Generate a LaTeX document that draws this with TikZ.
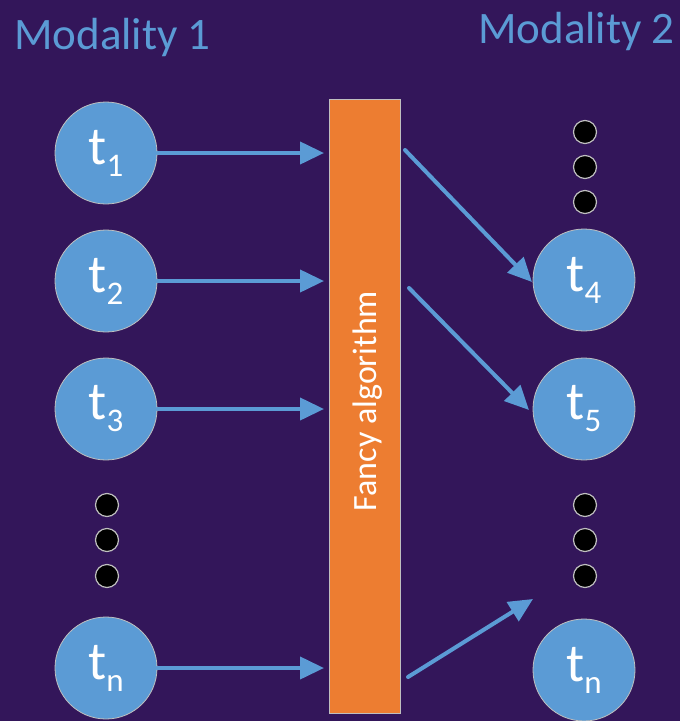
\documentclass[tikz,border=0pt]{standalone}
\usepackage{fontspec}
\setmainfont{Carlito}
\usetikzlibrary{arrows.meta}
\definecolor{bgpurple}{HTML}{33165A}
\definecolor{nodeblue}{HTML}{5B9BD5}
\definecolor{barorange}{HTML}{ED7D31}
\definecolor{rimgray}{HTML}{BFBFBF}
\tikzset{
  token/.style={circle, fill=nodeblue, draw=rimgray, line width=0.8pt,
    minimum size=102pt, inner sep=0pt, text=white,
    font=\fontsize{54}{54}\selectfont},
  dot/.style={circle, fill=black, draw=rimgray, line width=1.2pt,
    minimum size=23pt, inner sep=0pt},
  flow/.style={draw=nodeblue, line width=4pt, line cap=round,
    -{Triangle[length=24pt, width=22pt]}},
  heading/.style={text=nodeblue, font=\fontsize{45}{45}\selectfont, inner sep=0pt}
}
\newcommand{\tok}[1]{t\raisebox{-12pt}{\fontsize{33}{33}\selectfont #1}}
\begin{document}
\begin{tikzpicture}[x=1pt, y=-1pt]
  \fill[bgpurple] (0,0) rectangle (680,721);
  \useasboundingbox (0,0) rectangle (680,721);

  % headings
  \node[heading, anchor=west] (h1) at (14,37) {Modality 1};
  \node[heading, anchor=west] (h2) at (478,31) {Modality 2};

  % central processing bar
  \node[draw=rimgray, line width=0.8pt, fill=barorange, minimum width=71pt,
        minimum height=614pt, inner sep=0pt] (bar) at (364.5,406) {};
  \node[rotate=90, text=white, font=\fontsize{34}{34}\selectfont] (barlabel)
        at (368,401) {Fancy algorithm};

  % left column tokens
  \node[token] (l1) at (106,153) {\tok{1}};
  \node[token] (l2) at (106,281) {\tok{2}};
  \node[token] (l3) at (106,409) {\tok{3}};
  \node[token] (ln) at (106,668) {\tok{n}};
  \node[dot] (ld1) at (107,505) {};
  \node[dot] (ld2) at (107,540) {};
  \node[dot] (ld3) at (107,576) {};

  % right column tokens
  \node[token] (r4) at (584,280) {\tok{4}};
  \node[token] (r5) at (584,409) {\tok{5}};
  \node[token] (rn) at (584,670) {\tok{n}};
  \node[dot] (rd1) at (585,132) {};
  \node[dot] (rd2) at (585,167) {};
  \node[dot] (rd3) at (585,202) {};
  \node[dot] (rd4) at (585,505) {};
  \node[dot] (rd5) at (585,540) {};
  \node[dot] (rd6) at (585,576) {};

  % arrow anchors beside the bar
  \coordinate (b1) at (324,153);
  \coordinate (b2) at (324,281);
  \coordinate (b3) at (324,409);
  \coordinate (bn) at (324,668);
  \coordinate (o1) at (405,150);
  \coordinate (o2) at (409,288);
  \coordinate (on) at (408,677);
  \coordinate (t4) at (532,282);
  \coordinate (t5) at (529,410);
  \coordinate (tn) at (533,599);

  % arrows into the bar
  \draw[flow] (l1.east) -- (b1);
  \draw[flow] (l2.east) -- (b2);
  \draw[flow] (l3.east) -- (b3);
  \draw[flow] (ln.east) -- (bn);

  % arrows out of the bar
  \draw[flow] (o1) -- (t4);
  \draw[flow] (o2) -- (t5);
  \draw[flow] (on) -- (tn);
\end{tikzpicture}
\end{document}
